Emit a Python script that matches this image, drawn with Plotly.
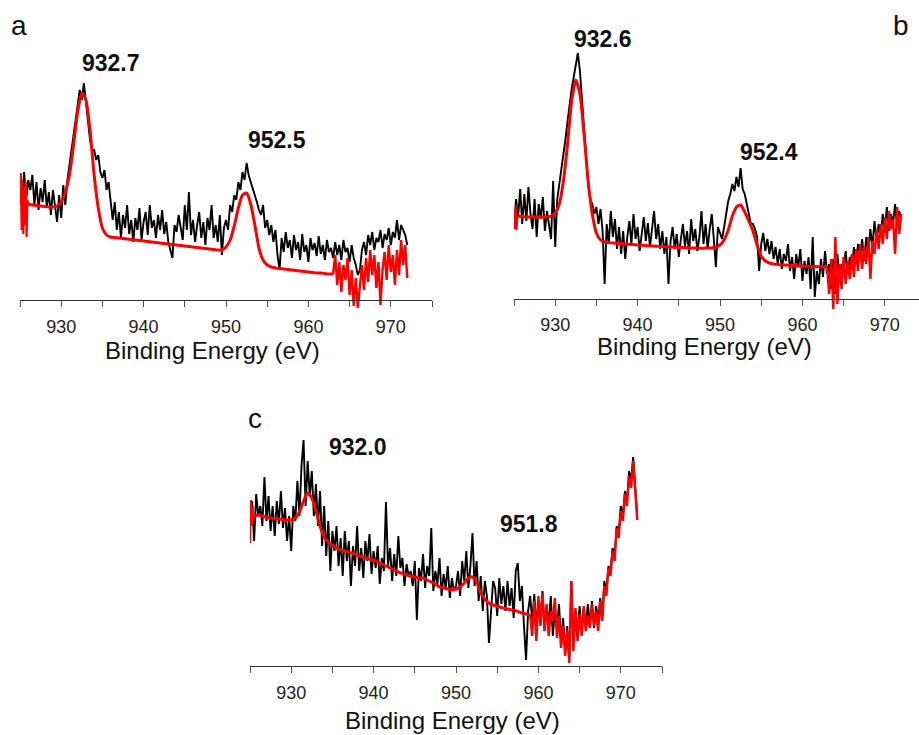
import plotly.graph_objects as go

# ---------------- data (intensity in arbitrary units, energies in eV) ----------------
STEP = 0.25
BLACK_START = 925.0

A_BLACK = [
    115, 95, 128, 100, 120,
    110, 125, 95, 118, 90, 112, 98, 120, 92, 108, 85, 110, 95, 78, 105, 82,
    115, 95, 120, 135, 150, 165, 185, 195, 210, 200, 217, 198, 180, 160, 150, 150, 140, 145, 128, 122, 130, 110, 118, 95,
    80, 98, 70, 88, 62, 85, 72, 95, 66, 80, 58, 82, 70, 92, 60, 78,
    88, 65, 95, 72, 80, 62, 85, 70, 90, 66, 78, 58, 50, 42, 75, 68,
    85, 72, 60, 95, 70, 108, 65, 80, 58, 75, 88, 62, 78, 55, 82, 70,
    95, 62, 75, 58, 85, 45, 72, 80,
    70, 95, 88, 105, 100, 118, 110, 128, 120, 137, 125, 118, 112, 105, 98, 90, 85, 95, 72, 80, 65, 75, 58, 70,
    45, 30, 62, 48, 68, 52, 60, 42, 65, 50, 58, 40, 66, 48, 55, 38, 62, 50, 57, 44, 64, 46, 55, 40, 60, 48, 52, 42,
    58, 45, 55, 40, 60, 48, 52, 38, 55, 42, 35, 25, 30, 50, 58, 45, 65, 55, 68, 50, 62, 58, 70, 52, 66, 60, 72, 55,
    68, 62, 80, 60, 75, 70, 65, 55,
]
A_RED_START, A_RED_START_STEP = 925.0, 0.1
A_RED_HEAD = [95, 127, 70, 120, 66, 110, 75, 118, 63, 100, 96]
A_FIT_START, FIT_STEP = 926.0, 0.5
A_FIT = [
    96, 95, 94.5, 94, 93.5, 93, 93, 94, 98, 108,
    125, 155, 188, 207, 200, 170, 125, 92, 72, 65,
    63, 62.5, 62, 61.5, 61, 60.5, 60, 59.5, 59, 58.5,
    58, 57.5, 57, 56.5, 56, 55.5, 55, 54.5, 54, 53.5,
    53, 52.5, 52, 51.5, 51, 50.5, 50, 50, 53, 60,
    74, 92, 105, 107, 96, 75, 52, 40, 35, 33,
    32, 31.5, 31, 30.5, 30, 29.5, 29, 28.5, 28, 27.5,
    27, 27, 26.5, 26, 26,
]
A_TAIL_START = 963.0
A_RED_TAIL = [26, 45, 15, 38, 8, 35, 20, 42, 5, 30, -6, 22, -8, 15, 35, 10, 42, 18, 50, 25,
              45, 12, 38, -5, 30, 48, 20, 55, 28, 45, 15, 50, 25, 60, 35, 55, 22]

B_BLACK = [
    70, 100, 82, 110, 75,
    105, 78, 112, 85, 70, 100, 62, 95, 80, 102, 68, 88, 75, 60, 118, 52,
    100, 115, 125, 140, 160, 178, 195, 210, 222, 235, 246, 228, 200, 170, 138, 115, 100, 95, 85, 92, 75, 90, 68, 15,
    75, 55, 88, 62, 80, 50, 72, 45, 68, 40, 62, 78, 55, 85, 60, 72,
    48, 66, 82, 58, 76, 52, 70, 88, 60, 75, 50, 68, 45, 62, 15, 58,
    72, 50, 65, 42, 60, 75, 52, 68, 45, 80, 58, 70, 48, 62, 88, 55,
    75, 50, 70, 85, 60, 32, 72, 65,
    60, 72, 85, 98, 105, 115, 108, 122, 112, 131, 110, 105, 95, 85, 75, 75, 70, 62, 28, 55, 66, 48, 60, 45,
    58, 40, 52, 35, 50, 30, 45, 38, 55, 28, 42, 20, 45, 32, 50, 18, 38, 25, 42, 10, 62, 2, 28, 15, 40, 22, 48, 25,
    35, 10, 40, 5, 45, 20, 35, 28, 48, 25, 42, 30, 52, 35, 55, 40, 60, 38, 62, 45, 70, 52, 78, 58, 75, 62, 85, 70,
    92, 68, 85, 75, 95, 72, 88, 80,
]
B_RED_START, B_RED_START_STEP = 925.0, 0.1
B_RED_HEAD = [90, 70, 94, 69, 82]
B_FIT_START = 925.5
B_FIT = [
    83, 82.5, 82, 82, 82, 82, 82, 82, 83, 86,
    95, 118, 155, 198, 219, 205, 165, 118, 85, 66,
    59, 57, 56.5, 56, 55.7, 55.4, 55, 54.7, 54.4, 54,
    53.8, 53.5, 53.2, 53, 52.7, 52.5, 52.2, 52, 51.8, 51.6,
    51.4, 51.2, 51.1, 51, 50.9, 50.8, 51, 51, 52, 54,
    59, 69, 83, 92, 94, 87, 78, 68, 54, 43,
    38, 36, 35, 34.5, 34, 34, 33.5, 33.5, 33, 33,
    32.8, 32.6, 32.4, 32.2, 32, 32,
]
B_TAIL_START = 963.0
B_RED_TAIL = [32, 5, 40, -10, 62, -5, 35, 10, 42, 15, 38, 20, 45, 22, 50, 28, 55, 30, 52, 35,
              62, 20, 58, 45, 70, 50, 75, 55, 82, 60, 88, 70, 80, 45, 92, 65, 85]

C_BLACK = [
    140, 165, 125, 172, 150,
    160, 140, 189, 145, 170, 135, 160, 130, 165, 142, 175, 138, 158, 125, 150, 115,
    160, 145, 185, 150, 200, 226, 160, 205, 170, 195, 150, 182, 140, 175, 120, 160, 110, 145, 95, 135, 115, 140, 100, 128,
    90, 135, 105, 125, 80, 120, 100, 140, 95, 118, 88, 125, 105, 132, 92, 115,
    98, 120, 82, 108, 95, 164, 100, 118, 85, 112, 90, 130, 98, 108, 80, 102,
    90, 95, 80, 105, 46, 98, 85, 112, 78, 100, 90, 138, 75, 95, 82, 108,
    70, 92, 78, 100, 68, 88, 75, 80,
    95, 70, 105, 85, 115, 78, 100, 133, 80, 105, 65, 90, 55, 85, 70, 23, 60, 85, 78, 50, 88, 62, 80, 55,
    85, 60, 78, 48, 95, 103, 65, 80, 40, 6, 55, 70, 45, 72, 40, 65, 50, 75, 35, 60, 42, 70, 30, 55, 38, 62, 25, 48,
    15, 40, 8, 85, 25, 55, 30, 60, 35, 58, 40, 62, 42, 65, 38, 60, 45, 68, 50, 85, 75, 100, 95, 118, 110, 140, 135, 160,
    150, 175, 165, 195, 185, 209, 180, 150,
]
C_RED_START, C_RED_START_STEP = 925.0, 0.1
C_RED_HEAD = [123, 166, 140, 160, 145, 150]
C_FIT_START = 925.5
C_FIT = [
    150, 151, 150, 149, 148, 147.5, 147, 146.5, 146, 146,
    148, 154, 165, 173, 168, 155, 140, 129, 124, 121,
    118, 116, 115, 114, 112.5, 111, 109.5, 108, 107, 106,
    104, 102, 100, 98, 96, 94, 92.5, 91, 90, 89,
    88, 88, 86, 84, 82, 79, 78, 77, 76.5, 77,
    79, 83, 88, 89, 84, 73, 67, 63, 61, 60,
    58.5, 57.5, 56.5, 56, 54.5, 53, 52, 51,
]
C_TAIL_START = 959.0
C_RED_TAIL = [51, 30, 65, 25, 70, 40, 73, 35, 62, 30, 55, 45, 68, 28, 50, 18, 40, 10, 35, 3,
              85, 15, 58, 25, 52, 30, 60, 35, 50, 38, 62, 40, 55, 35, 65, 45, 80, 70, 98, 90,
              115, 105, 138, 128, 155, 145, 172, 160, 190, 178, 205, 170, 146]

TICK_VALUES = [925, 930, 935, 940, 945, 950, 955, 960, 965, 970, 975]
TICK_LABELS = ["", "930", "", "940", "", "950", "", "960", "", "970", ""]

PANEL_LETTERS = ["a", "b", "c"]
PEAKS = {
    "a": [("932.7", 936.0, 237), ("952.5", 956.2, 160)],
    "b": [("932.6", 935.8, 260), ("952.4", 956.0, 147.5)],
    "c": [("932.0", 938.05, 218.6), ("951.8", 958.9, 142)],
}
XLABEL = "Binding Energy (eV)"


def grid(start, step, n):
    return [round(start + step * i, 4) for i in range(n)]


FONT = "Liberation Sans, Arial, sans-serif"
W, H = 919, 735

panels = [
    dict(black=A_BLACK, head=(A_RED_START, A_RED_START_STEP, A_RED_HEAD), fit=(A_FIT_START, A_FIT),
         tail=(A_TAIL_START, A_RED_TAIL)),
    dict(black=B_BLACK, head=(B_RED_START, B_RED_START_STEP, B_RED_HEAD), fit=(B_FIT_START, B_FIT),
         tail=(B_TAIL_START, B_RED_TAIL)),
    dict(black=C_BLACK, head=(C_RED_START, C_RED_START_STEP, C_RED_HEAD), fit=(C_FIT_START, C_FIT),
         tail=(C_TAIL_START, C_RED_TAIL)),
]

fig = go.Figure()
for k, p in enumerate(panels):
    xa = "x" if k == 0 else f"x{k+1}"
    ya = "y" if k == 0 else f"y{k+1}"
    fig.add_trace(go.Scatter(x=grid(BLACK_START, STEP, len(p["black"])), y=p["black"], mode="lines",
                             line=dict(color="black", width=1.9), xaxis=xa, yaxis=ya, hoverinfo="skip"))
    hs, hstep, hv = p["head"]
    fig.add_trace(go.Scatter(x=grid(hs, hstep, len(hv)), y=hv, mode="lines",
                             line=dict(color="#ff0000", width=2.2), xaxis=xa, yaxis=ya, hoverinfo="skip"))
    fs, fv = p["fit"]
    fig.add_trace(go.Scatter(x=grid(fs, FIT_STEP, len(fv)), y=fv, mode="lines",
                             line=dict(color="#ff0000", width=3, shape="spline", smoothing=0.6),
                             xaxis=xa, yaxis=ya, hoverinfo="skip"))
    ts, tv = p["tail"]
    fig.add_trace(go.Scatter(x=grid(ts, STEP, len(tv)), y=tv, mode="lines",
                             line=dict(color="#ff0000", width=2.4), xaxis=xa, yaxis=ya, hoverinfo="skip"))

# geometry (pixels)
px_per_ev = 8.24
geo = [
    dict(x0=20, x1=432, xr=[925, 975], axis_y=300, bot=318, top=40, standoff=4),
    dict(x0=514, x1=919, xr=[925, 925 + (919 - 514) / px_per_ev], axis_y=299, bot=315, top=20, standoff=3),
    dict(x0=250, x1=662, xr=[925, 975], axis_y=666, bot=672, top=420, standoff=4),
]

layout = dict(width=W, height=H, margin=dict(l=0, r=0, t=0, b=0), showlegend=False,
              paper_bgcolor="white", plot_bgcolor="white", font=dict(family=FONT, color="#111"))
for k, g in enumerate(geo):
    sx = "xaxis" if k == 0 else f"xaxis{k+1}"
    sy = "yaxis" if k == 0 else f"yaxis{k+1}"
    xa = "x" if k == 0 else f"x{k+1}"
    height_px = g["bot"] - g["top"]
    y_lo = -(g["bot"] - g["axis_y"])
    layout[sx] = dict(domain=[g["x0"] / W, g["x1"] / W], range=g["xr"], anchor="free",
                      position=1 - g["axis_y"] / H, showline=True, linecolor="#333", linewidth=1,
                      ticks="outside", ticklen=6, tickwidth=1, tickcolor="#555",
                      tickvals=TICK_VALUES, ticktext=TICK_LABELS, showgrid=False, zeroline=False,
                      tickfont=dict(family=FONT, size=18, color="#222"), ticklabelstandoff=g["standoff"])
    layout[sy] = dict(domain=[1 - g["bot"] / H, 1 - g["top"] / H], range=[y_lo, y_lo + height_px],
                      anchor=xa, visible=False, showgrid=False, zeroline=False)
fig.update_layout(**layout)

ann = []
# axis titles
for cx, cy in [(212.5, 350), (704, 346.5), (452.5, 720)]:
    ann.append(dict(x=cx / W, y=1 - cy / H, xref="paper", yref="paper", text=XLABEL, showarrow=False,
                    xanchor="center", yanchor="middle", font=dict(family=FONT, size=24, color="#111")))
# panel letters
for letter, (cx, cy) in zip(PANEL_LETTERS, [(19, 25.6), (900.7, 25), (255, 418.3)]):
    ann.append(dict(x=cx / W, y=1 - cy / H, xref="paper", yref="paper", text=letter, showarrow=False,
                    xanchor="center", yanchor="middle", font=dict(family=FONT, size=28, color="#111")))
# peak labels
for k, letter in enumerate(PANEL_LETTERS):
    xa = "x" if k == 0 else f"x{k+1}"
    ya = "y" if k == 0 else f"y{k+1}"
    for txt, ex, ey in PEAKS[letter]:
        ann.append(dict(x=ex, y=ey, xref=xa, yref=ya, text=f"<b>{txt}</b>", showarrow=False,
                        xanchor="center", yanchor="middle", font=dict(family=FONT, size=23, color="#111")))
fig.update_layout(annotations=ann)

fig.write_html("out.html")
